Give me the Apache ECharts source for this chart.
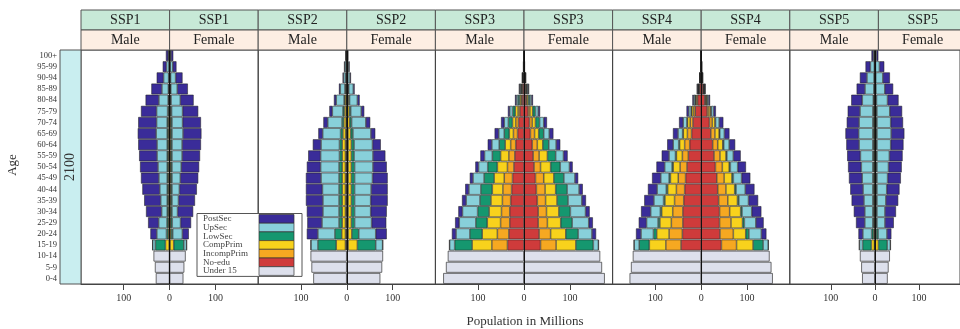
<!DOCTYPE html>
<html>
<head>
<meta charset="utf-8">
<script src="https://cdn.jsdelivr.net/npm/echarts@6/dist/echarts.min.js"></script>
<style>
  html, body { margin: 0; padding: 0; background: #fff; }
  #chart { width: 960px; height: 329px; }
</style>
</head>
<body>
<div id="chart"></div>
<script>
// age groups, bottom to top
const ages = ['0-4', '5-9', '10-14', '15-19', '20-24', '25-29', '30-34', '35-39', '40-44', '45-49',
  '50-54', '55-59', '60-64', '65-69', '70-74', '75-79', '80-84', '85-89', '90-94', '95-99', '100+'];
const scenarios = ['SSP1', 'SSP2', 'SSP3', 'SSP4', 'SSP5'];
const sexes = ['Male', 'Female'];
const ticks = [-100, 0, 100];

// millions per sex; under-15 for 0-4..10-14, education for 15-19..100+
const ssp1Under15 = [30, 32, 35];
const ssp1NoEdu    = [0.5, 0.3, 0.3, 0.3, 0.3, 0.3, 0.3, 0.3, 0.3, 0.3, 0.3, 0.3, 0.3, 0.2, 0.2, 0.1, 0.1, 0.1];
const ssp1Incomp   = [0.5, 0.5, 0.5, 0.5, 0.5, 0.5, 0.5, 0.5, 0.5, 0.5, 0.5, 0.5, 0.5, 0.4, 0.3, 0.2, 0.2, 0.1];
const ssp1CompPrim = [8, 2.5, 2, 2, 2, 2, 2, 2, 2, 2, 2, 2, 1.5, 1.2, 1, 0.8, 0.5, 0.4];
const ssp1LowSec   = [22, 3.5, 3, 2.5, 2.5, 2.5, 2.5, 2.5, 2.5, 2.5, 2.5, 2.5, 2, 1.5, 1.2, 1, 0.6, 0.4];
const ssp1UpSec    = [6, 21, 18, 12, 14, 16, 18, 20, 22, 22, 24, 23, 24, 20, 14, 11, 5.5, 2];
const ssp1PostSec  = [0.5, 14, 23, 34, 36, 38, 39, 39, 39, 41, 40, 40, 34, 29, 23, 15, 8, 5];

const ssp2Under15 = [73, 77, 79];
const ssp2NoEdu    = [1, 1, 1, 1, 1, 1, 1, 1, 1, 1, 1, 0.5, 0.5, 0.3, 0.2, 0.1, 0.1, 0.05];
const ssp2Incomp   = [2, 2, 2, 2, 2, 2, 2, 2, 2, 2, 1.5, 1, 1, 0.7, 0.5, 0.3, 0.2, 0.1];
const ssp2CompPrim = [20, 8, 7, 7, 7, 7, 7, 7, 7, 7, 6, 5, 4, 3, 2, 1, 0.5, 0.3];
const ssp2LowSec   = [40, 15, 7, 7, 7, 7, 7, 7, 6, 6, 5, 4, 3, 2, 1.5, 1, 0.5, 0.3];
const ssp2UpSec    = [15, 37, 37, 35, 35, 36, 39, 40, 41, 40, 39, 31, 23, 17, 10, 4.6, 3, 1.3];
const ssp2PostSec  = [1, 24, 32, 35, 37, 36, 33, 30, 27, 18, 9.5, 9.5, 6.5, 5, 2.8, 2, 1.7, 1];

const ssp3Under15 = [176, 170, 166];
const ssp3NoEdu    = [36, 33, 31, 31, 29, 27, 25, 22, 20, 18, 14, 12, 9, 4.3, 3, 1.2, 0.4, 0.1];
const ssp3Incomp   = [34, 25, 20, 18, 18, 19, 18, 14, 13, 11, 9, 6, 4, 2.2, 1.5, 0.6, 0.2, 0.05];
const ssp3CompPrim = [43, 33, 29, 27, 25, 23, 22, 22, 18, 12, 9, 7, 6, 2.9, 1.5, 0.6, 0.2, 0.05];
const ssp3LowSec   = [38, 27, 25, 25, 24, 25, 22, 21, 18, 13, 11, 9, 6, 3.6, 1.5, 0.6, 0.2, 0.05];
const ssp3UpSec    = [11, 30, 36, 33, 30, 26, 24, 20, 17, 16, 12, 9, 6, 3.6, 2, 0.6, 0.2, 0.05];
const ssp3PostSec  = [1, 9, 9, 9, 9, 8, 7, 7, 9, 9, 9, 7, 4, 2.9, 1.5, 0.6, 0.2, 0.05];

const ssp4Under15 = [156, 153, 149];
const ssp4NoEdu    = [44, 41, 40, 40, 38, 36, 34, 31, 28, 25, 21, 18, 13, 8, 4, 1.5, 0.5, 0.1];
const ssp4Incomp   = [33, 29, 25, 22, 20, 18, 16, 15, 13, 11, 9, 6, 4, 2, 1, 0.4, 0.1, 0.05];
const ssp4CompPrim = [36, 27, 25, 24, 21, 19, 17, 15, 13, 11, 9, 6, 4, 2.5, 1.2, 0.5, 0.2, 0.05];
const ssp4LowSec   = [22, 7, 4, 3, 3, 3, 3, 2.5, 2, 2, 1.5, 1.2, 1, 0.7, 0.4, 0.2, 0.1, 0.02];
const ssp4UpSec    = [11, 27, 25, 21, 21, 20, 18, 16, 14, 12, 10, 8, 5, 3, 1.5, 0.6, 0.2, 0.05];
const ssp4PostSec  = [1, 11, 17, 21, 21, 20, 19, 18, 16, 13, 11, 9, 5, 3, 1.5, 0.6, 0.2, 0.05];

const ssp5Under15 = [29, 31, 34];
const ssp5NoEdu    = [0.5, 0.3, 0.3, 0.3, 0.3, 0.3, 0.3, 0.3, 0.3, 0.3, 0.3, 0.3, 0.2, 0.2, 0.1, 0.1, 0.05, 0.05];
const ssp5Incomp   = [0.5, 0.5, 0.5, 0.5, 0.5, 0.5, 0.5, 0.5, 0.5, 0.5, 0.5, 0.5, 0.5, 0.4, 0.3, 0.3, 0.2, 0.1];
const ssp5CompPrim = [7, 2.5, 2, 2, 2, 2, 2, 2, 2, 2, 2, 2, 2, 1.5, 1, 0.8, 0.5, 0.3];
const ssp5LowSec   = [20, 4, 2, 2, 2, 2, 2, 2, 2, 2, 2, 2, 2, 1.5, 1, 0.8, 0.5, 0.3];
const ssp5UpSec    = [7, 20, 18, 18, 20, 22, 24, 26, 28, 31, 32, 31, 29, 25, 20, 16, 9, 3];
const ssp5PostSec  = [1, 10, 20, 25, 28, 29, 30, 30, 30, 29, 30, 28, 28, 25, 19, 16, 11, 4];

const under15 = [ssp1Under15, ssp2Under15, ssp3Under15, ssp4Under15, ssp5Under15];
const education = [
  [ssp1NoEdu, ssp1Incomp, ssp1CompPrim, ssp1LowSec, ssp1UpSec, ssp1PostSec],
  [ssp2NoEdu, ssp2Incomp, ssp2CompPrim, ssp2LowSec, ssp2UpSec, ssp2PostSec],
  [ssp3NoEdu, ssp3Incomp, ssp3CompPrim, ssp3LowSec, ssp3UpSec, ssp3PostSec],
  [ssp4NoEdu, ssp4Incomp, ssp4CompPrim, ssp4LowSec, ssp4UpSec, ssp4PostSec],
  [ssp5NoEdu, ssp5Incomp, ssp5CompPrim, ssp5LowSec, ssp5UpSec, ssp5PostSec]
];
const eduNames = ['No-edu', 'IncompPrim', 'CompPrim', 'LowSec', 'UpSec', 'PostSec'];
const eduColors = ['#cf3b3b', '#f6a821', '#f8d21c', '#15976f', '#88d0da', '#3a2c99'];
const under15Color = '#dde0ec';

const serif = '"Liberation Serif", "DejaVu Serif", serif';
const panelLeft = 81, panelW = 177.2, plotTop = 50, plotH = 234;

const chart = echarts.init(document.getElementById('chart'));

const grids = [], xAxes = [], yAxes = [], series = [];
scenarios.forEach((ssp, i) => {
  grids.push({ left: panelLeft + panelW * i, top: plotTop, width: panelW, height: plotH,
    show: true, borderColor: '#444', borderWidth: 1 });
  xAxes.push({
    type: 'value', gridIndex: i, min: -193, max: 193,
    axisLine: { show: true, onZero: false, lineStyle: { color: '#444' } },
    axisTick: { show: true, customValues: ticks, length: 6, lineStyle: { color: '#444' } },
    axisLabel: { customValues: ticks, formatter: v => Math.abs(v), fontFamily: serif,
      fontSize: 10, color: '#333', margin: 9 },
    splitLine: { show: false }
  });
  yAxes.push({
    type: 'category', gridIndex: i, data: ages,
    axisLine: { show: false, onZero: false }, axisTick: { show: false },
    axisLabel: { show: i === 0, interval: 0, margin: 24, fontFamily: serif, fontSize: 8.5, color: '#333' }
  });

  sexes.forEach((sex, s) => {
    const sign = s === 0 ? -1 : 1;
    const stack = ssp + sex;
    const base = { type: 'bar', xAxisIndex: i, yAxisIndex: i, stack, barGap: '-100%',
      barCategoryGap: '3%', animation: false, silent: true };
    series.push(Object.assign({}, base, {
      name: 'Under 15',
      data: ages.map((a, k) => k < 3 ? sign * under15[i][k] : null),
      itemStyle: { color: under15Color, borderColor: '#333', borderWidth: 0.7 },
      markLine: s === 0 ? { silent: true, symbol: 'none', label: { show: false }, animation: false,
        lineStyle: { color: '#111', width: 1, type: 'solid' }, data: [{ xAxis: 0 }] } : undefined
    }));
    eduNames.forEach((name, e) => {
      series.push(Object.assign({}, base, {
        name,
        data: ages.map((a, k) => k < 3 ? null : sign * education[i][e][k - 3]),
        itemStyle: { color: eduColors[e], borderColor: '#222', borderWidth: 0.55 }
      }));
    });
  });
});

// strips, legend and titles
const graphic = [];
scenarios.forEach((ssp, i) => {
  sexes.forEach((sex, s) => {
    const x = panelLeft + panelW * i + panelW / 2 * s;
    graphic.push({ type: 'rect', shape: { x, y: 10, width: panelW / 2, height: 20 },
      style: { fill: '#c7e9d7', stroke: '#555', lineWidth: 1 }, z: 10 });
    graphic.push({ type: 'text', x: x + panelW / 4, y: 20, z: 11,
      style: { text: ssp, font: '14px ' + serif, fill: '#222', textAlign: 'center', textVerticalAlign: 'middle' } });
    graphic.push({ type: 'rect', shape: { x, y: 30, width: panelW / 2, height: 20 },
      style: { fill: '#fdeee3', stroke: '#555', lineWidth: 1 }, z: 10 });
    graphic.push({ type: 'text', x: x + panelW / 4, y: 40, z: 11,
      style: { text: sex, font: '14px ' + serif, fill: '#222', textAlign: 'center', textVerticalAlign: 'middle' } });
  });
});
graphic.push({ type: 'rect', shape: { x: 60, y: plotTop, width: 21, height: plotH },
  style: { fill: '#c9eef0', stroke: '#555', lineWidth: 1 }, z: 10 });
graphic.push({ type: 'text', x: 70.5, y: plotTop + plotH / 2, rotation: Math.PI / 2, z: 11,
  style: { text: '2100', font: '14px ' + serif, fill: '#333', textAlign: 'center', textVerticalAlign: 'middle' } });
graphic.push({ type: 'text', x: 13, y: 165, rotation: Math.PI / 2, z: 11,
  style: { text: 'Age', font: '13px ' + serif, fill: '#333', textAlign: 'center', textVerticalAlign: 'middle' } });
graphic.push({ type: 'text', x: 525, y: 322, z: 11,
  style: { text: 'Population in Millions', font: '13px ' + serif, fill: '#333', textAlign: 'center', textVerticalAlign: 'middle' } });

const legendNames = ['PostSec', 'UpSec', 'LowSec', 'CompPrim', 'IncompPrim', 'No-edu', 'Under 15'];
const legendColors = ['#3a2c99', '#88d0da', '#15976f', '#f8d21c', '#f6a821', '#cf3b3b', under15Color];
const lgX = 197, lgY = 214.5, rowH = 8.7;
graphic.push({ type: 'rect', shape: { x: lgX, y: lgY - 1, width: 105, height: rowH * 7 + 2 },
  style: { fill: '#fff', stroke: '#555', lineWidth: 1 }, z: 20 });
legendNames.forEach((n, k) => {
  graphic.push({ type: 'text', x: lgX + 6, y: lgY + rowH * k + rowH / 2, z: 21,
    style: { text: n, font: '9px ' + serif, fill: '#444', textVerticalAlign: 'middle' } });
  graphic.push({ type: 'rect', shape: { x: 259, y: lgY + rowH * k, width: 35, height: rowH },
    style: { fill: legendColors[k], stroke: '#333', lineWidth: 0.7 }, z: 21 });
});

chart.setOption({
  animation: false,
  grid: grids,
  xAxis: xAxes,
  yAxis: yAxes,
  series,
  graphic
});
</script>
</body>
</html>
